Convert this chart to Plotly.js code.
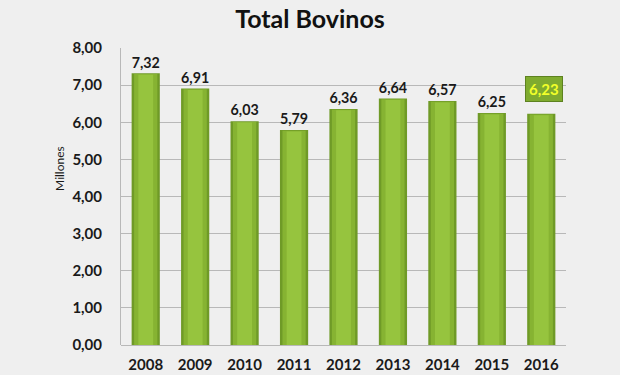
<!DOCTYPE html>
<html><head><meta charset="utf-8">
<script src="https://cdn.plot.ly/plotly-3.0.1.min.js"></script>
<style>html,body{margin:0;padding:0;background:#efefef;}#chart{width:620px;height:375px;}</style>
</head><body><div id="chart"></div>
<script>
const years = ["2008","2009","2010","2011","2012","2013","2014","2015","2016"];
const values = [7.32, 6.91, 6.03, 5.79, 6.36, 6.64, 6.57, 6.25, 6.23];
const yTicks = [0,1,2,3,4,5,6,7,8];

const n = years.length;
const labelsMain = values.map((v,i)=> i===n-1 ? "" : v.toFixed(2).replace(".",","));
const font = "Lato, 'Open Sans', sans-serif";

const traces = [
  {type:"bar", x:years, y:values, width:0.57, marker:{color:"#6f9a27", line:{width:0}},
   text:labelsMain, textposition:"outside", cliponaxis:false,
   textfont:{family:font, size:16, color:"#1a1a1a", weight:"bold"}, hoverinfo:"skip"},
  {type:"bar", x:years, y:values.map(v=>v-0.02), width:0.47, marker:{color:"#86b332", line:{width:0}}, hoverinfo:"skip"},
  {type:"bar", x:years, y:values.map(v=>v-0.04), width:0.3, marker:{color:"#96c43e", line:{width:0}}, hoverinfo:"skip"}
];

const layout = {
  width:620, height:375,
  paper_bgcolor:"#efefef", plot_bgcolor:"#efefef",
  margin:{l:121, r:54, t:48, b:30},
  barmode:"overlay",
  showlegend:false,
  separators:",.",
  title:{text:"<b>Total Bovinos</b>", font:{family:font, size:25, color:"#111"}, x:0.5, xanchor:"center", y:0.95, yanchor:"middle"},
  xaxis:{type:"category", categoryarray:years, range:[-0.5, n-0.5], autorange:false,
    tickfont:{family:font, size:15, color:"#1a1a1a", weight:"bold"}, showgrid:false, showline:false, ticks:"", ticklen:0, ticklabelstandoff:9},
  yaxis:{range:[0,8], tickvals:yTicks, tickformat:".2f", tickfont:{family:font, size:15, color:"#1a1a1a", weight:"bold"},
    showgrid:true, gridcolor:"#b8b8b8", gridwidth:1, showline:true, linecolor:"#b8b8b8", linewidth:1, zeroline:true, zerolinecolor:"#b8b8b8",
    ticks:"", ticklabelstandoff:15},
  annotations:[
    {x:n-1, y:values[n-1], yref:"y", xref:"x", yshift:25, xshift:3,
     text:"<b>"+values[n-1].toFixed(2).replace(".",",")+"</b>", showarrow:false,
     font:{family:font, size:15, color:"#f2ff2a"}, bgcolor:"#7fab2f", bordercolor:"#5d8220", borderwidth:1, borderpad:3},
    {xref:"paper", yref:"paper", x:-0.137, y:0.593, xanchor:"center", yanchor:"middle", textangle:-90, showarrow:false,
     text:"Millones", font:{family:font, size:12, color:"#1a1a1a"}}
  ]
};
Plotly.newPlot("chart", traces, layout, {displayModeBar:false, staticPlot:true});
</script></body></html>
